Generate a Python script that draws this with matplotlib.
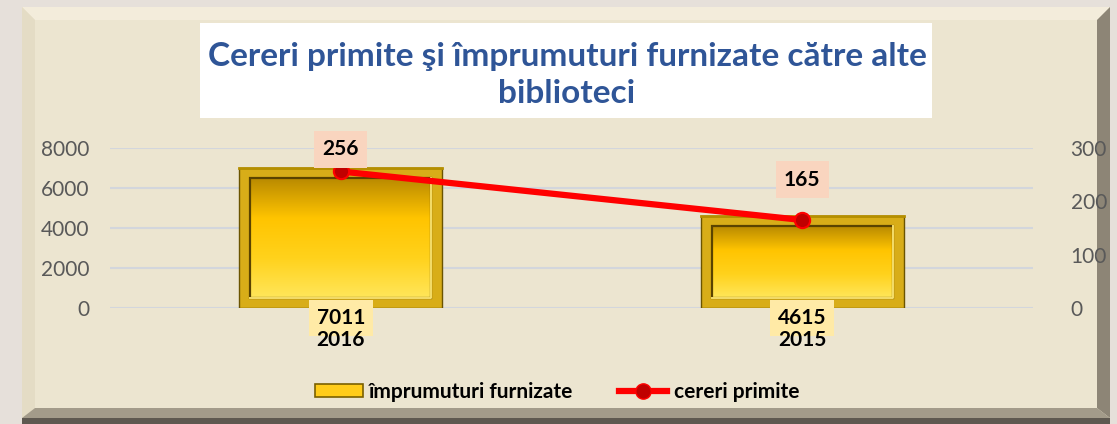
import numpy as np
import matplotlib
matplotlib.use("Agg")
import matplotlib.pyplot as plt
from matplotlib.patches import Rectangle, Polygon
from matplotlib.lines import Line2D
from matplotlib.colors import LinearSegmentedColormap

# data
years = ["2016", "2015"]
imprumuturi = [7011, 4615]
cereri = [256, 165]
left_ticks = [0, 2000, 4000, 6000, 8000]
right_ticks = [0, 100, 200, 300]
title = "Cereri primite şi împrumuturi furnizate către alte\nbiblioteci"

plt.rcParams["font.family"] = ["Lato", "DejaVu Sans"]

W, H = 1117, 424
fig = plt.figure(figsize=(W / 100, H / 100), dpi=100)
fig.patch.set_facecolor("#e6e0da")


def fx(px):
    return px / W


def fy(py):
    return 1 - py / H


# panel (flat colour) with bevel
panel = Rectangle((fx(22), fy(418)), fx(1110) - fx(22), fy(7) - fy(418),
                  transform=fig.transFigure, facecolor="#ece5d0",
                  edgecolor="none", zorder=0)
fig.patches.append(panel)
bev_top = Polygon([(fx(22), fy(7)), (fx(1110), fy(7)), (fx(1097), fy(20)), (fx(35), fy(20))],
                  closed=True, transform=fig.transFigure, facecolor="#f3ecdb",
                  edgecolor="none", zorder=0.1)
bev_left = Polygon([(fx(22), fy(7)), (fx(35), fy(20)), (fx(35), fy(408)), (fx(22), fy(418))],
                   closed=True, transform=fig.transFigure, facecolor="#e4dcc5",
                   edgecolor="none", zorder=0.1)
bev_right = Polygon([(fx(1110), fy(7)), (fx(1110), fy(418)), (fx(1097), fy(408)), (fx(1097), fy(20))],
                    closed=True, transform=fig.transFigure, facecolor="#8d8576",
                    edgecolor="none", zorder=0.1)
bev_bot = Polygon([(fx(22), fy(418)), (fx(1110), fy(418)), (fx(1097), fy(408)), (fx(35), fy(408))],
                  closed=True, transform=fig.transFigure, facecolor="#a39b8a",
                  edgecolor="none", zorder=0.1)
for p in (bev_top, bev_left, bev_right, bev_bot):
    fig.patches.append(p)
fig.patches.append(Rectangle((fx(22), 0), fx(1110) - fx(22), fy(418),
                             transform=fig.transFigure, facecolor="#5e5850",
                             edgecolor="none", zorder=0.1))

# title box
fig.patches.append(Rectangle((fx(200), fy(118)), fx(932) - fx(200), fy(23) - fy(118),
                             transform=fig.transFigure, facecolor="white",
                             edgecolor="none", zorder=0.2))
fig.text(fx(567), fy(75), title, ha="center", va="center", fontsize=24,
         fontweight="bold", color="#2f5597", linespacing=1.35, zorder=0.3)

# axes
ax = fig.add_axes([fx(110), fy(308), fx(1033) - fx(110), fy(148) - fy(308)])
ax.set_facecolor("none")
ax2 = ax.twinx()
ax2.set_facecolor("none")
ax.set_zorder(2)
ax2.set_zorder(3)

x = np.arange(len(years))
bw = 0.44
bars = ax.bar(x, imprumuturi, width=bw, color="#d8ad18", edgecolor="#6b5400",
              linewidth=1, zorder=3)

grad = LinearSegmentedColormap.from_list("g", ["#b98a00", "#ffc400", "#ffd21c", "#ffe65a"])
gimg = np.linspace(0, 1, 256).reshape(-1, 1)
dx, dy = 0.024, 520
for b in bars:
    x0, y0 = b.get_x(), b.get_y()
    bwid, bh = b.get_width(), b.get_height()
    inner = Rectangle((x0 + dx, y0 + dy), bwid - 2 * dx, bh - 2 * dy,
                      facecolor="none", edgecolor="#5a4300", linewidth=1.6, zorder=5)
    ax.add_patch(inner)
    im = ax.imshow(gimg, cmap=grad, aspect="auto", zorder=4,
                   extent=(x0 + dx, x0 + bwid - dx, y0 + dy, y0 + bh - dy),
                   origin="upper")
    im.set_clip_path(inner)
    # light lower/right rims of the frame
    ax.plot([x0 + dx, x0 + bwid - dx, x0 + bwid - dx],
            [y0 + dy, y0 + dy, y0 + bh - dy], color="#f7df6a", lw=1.4, zorder=6)
    ax.plot([x0, x0 + bwid], [y0 + bh, y0 + bh], color="#b58f00", lw=2, zorder=6)

ax.set_xlim(-0.5, len(years) - 0.5)
ax.set_ylim(0, 8000)
ax2.set_ylim(0, 300)
ax.set_yticks(left_ticks)
ax2.set_yticks(right_ticks)
ax.grid(axis="y", color="#d3d6dc", linewidth=1.5, zorder=1)
ax.set_axisbelow(True)
for a in (ax, ax2):
    for s in a.spines.values():
        s.set_visible(False)
ax.tick_params(axis="y", length=0, pad=15, labelsize=15, labelcolor="#595959")
ax2.tick_params(axis="y", length=0, pad=27, labelsize=15, labelcolor="#595959")
ax.set_xticks(x)
ax.set_xticklabels([])
ax.tick_params(axis="x", length=0)

ax2.plot(x, cereri, color="#ff0000", lw=4.5, marker="o", markersize=11,
         markerfacecolor="#c00000", markeredgecolor="#ff0000", markeredgewidth=1.5,
         zorder=7)

# data labels
line_offsets = [16, 29]
for xi, v, off in zip(x, cereri, line_offsets):
    ax2.annotate(str(v), (xi, v), xytext=(0, off), textcoords="offset points",
                 ha="center", va="center", fontsize=15, fontweight="bold",
                 bbox=dict(boxstyle="square,pad=0.4", facecolor="#f9d5bf",
                           edgecolor="none"), zorder=8)
for xi, v in zip(x, imprumuturi):
    ax2.annotate(str(v), (xi, 0), xytext=(0, -7.5), textcoords="offset points",
                 ha="center", va="center", fontsize=15, fontweight="bold",
                 bbox=dict(boxstyle="square,pad=0.38", facecolor="#ffeaa6",
                           edgecolor="none"), zorder=8, annotation_clip=False)
# category labels on top of the value boxes
for xi, yr in zip(x, years):
    ax2.annotate(yr, (xi, 0), xytext=(0, -23), textcoords="offset points",
                 ha="center", va="center", fontsize=15, fontweight="bold",
                 zorder=9, annotation_clip=False)

# legend
h_bar = Rectangle((0, 0), 1, 1, facecolor="#ffcc1a", edgecolor="#7a6000", linewidth=1.2)
h_line = Line2D([], [], color="#ff0000", lw=4.5, marker="o", markersize=11,
                markerfacecolor="#c00000", markeredgecolor="#ff0000")
fig.legend([h_bar, h_line], ["împrumuturi furnizate", "cereri primite"],
           loc="center", bbox_to_anchor=(fx(557), fy(392)), ncol=2, frameon=False,
           prop={"size": 15, "weight": "bold"}, handlelength=2.3, handleheight=0.6,
           handletextpad=0.3, columnspacing=2.2)

fig.savefig("out.png", dpi=100, facecolor=fig.get_facecolor())
